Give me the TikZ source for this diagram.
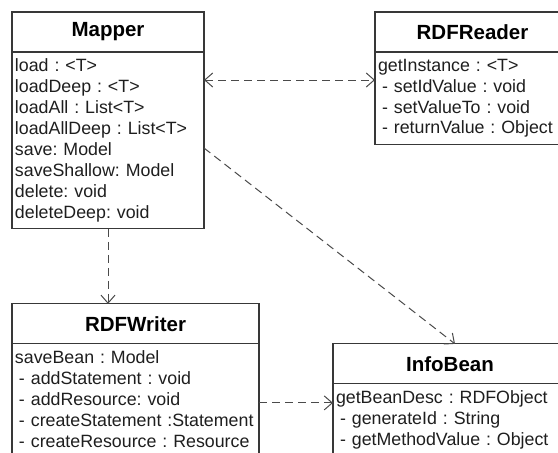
\documentclass[tikz,border=0pt]{standalone}
\usepackage{fontspec}
\setmainfont{Liberation Sans}
\usetikzlibrary{arrows.meta, positioning}
\definecolor{umlline}{HTML}{383838}
\definecolor{depline}{HTML}{4A4A4A}
\definecolor{optext}{HTML}{1E1E1E}
\frenchspacing

\begin{document}
\begin{tikzpicture}[
    classtitle/.style={rectangle, draw=umlline, line width=1.2pt, outer sep=0pt, minimum height=40pt, font=\fontsize{20.5}{24}\selectfont\bfseries, text=black},
    classbody/.style={rectangle, draw=umlline, line width=1.2pt, outer sep=0pt, inner xsep=3pt, inner ysep=7pt, align=left, text=optext, font=\fontsize{17.8}{20.9}\selectfont},
    dep/.style={draw=depline, line width=1pt, dash pattern=on 8pt off 5pt, >={Straight Barb[length=8pt, width=14pt]}}
]

\useasboundingbox (0,0) rectangle (558pt,-453pt);

\node[classtitle, minimum width=192pt, anchor=north west] (mapper) at (12pt,-12pt) {Mapper};
\node[classbody, text width=186pt, below=0pt of mapper] (mapperops) {load : <T>\\loadDeep : <T>\\loadAll : List<T>\\loadAllDeep : List<T>\\save: Model\\saveShallow: Model\\delete: void\\deleteDeep: void};

\node[classtitle, minimum width=195pt, right=171pt of mapper] (reader) {RDFReader};
\node[classbody, text width=189pt, below=0pt of reader] (readerops) {getInstance : <T>\\\hspace*{4pt}- setIdValue : void\\\hspace*{4pt}- setValueTo : void\\\hspace*{4pt}- returnValue : Object};

\node[classtitle, minimum width=247pt, below=75pt of mapperops.south west, anchor=north west] (writer) {RDFWriter};
\node[classbody, text width=241pt, below=0pt of writer] (writerops) {saveBean : Model\\\hspace*{4pt}- addStatement : void\\\hspace*{4pt}- addResource: void\\\hspace*{4pt}- createStatement :Statement\\\hspace*{4pt}- createResource : Resource};

\node[classtitle, minimum width=234pt, right=74pt of writer.south east, anchor=north west] (info) {InfoBean};
\node[classbody, text width=228pt, text depth=80pt, below=0pt of info] (infoops) {getBeanDesc : RDFObject\\\hspace*{4pt}- generateId : String\\\hspace*{4pt}- getMethodValue : Object};

\draw[dep, <->] ([yshift=-28pt]mapperops.north east) -- ([yshift=-28pt]readerops.north west);
\draw[dep, ->] (mapperops.south) -- (writer.north -| mapperops.south);
\draw[dep, ->] ([yshift=-96pt]mapperops.north east) -- ([xshift=5pt]info.north);
\draw[dep, ->] ([yshift=-59pt]writerops.north east) coordinate (wr) -- (wr -| infoops.west);

\end{tikzpicture}
\end{document}
